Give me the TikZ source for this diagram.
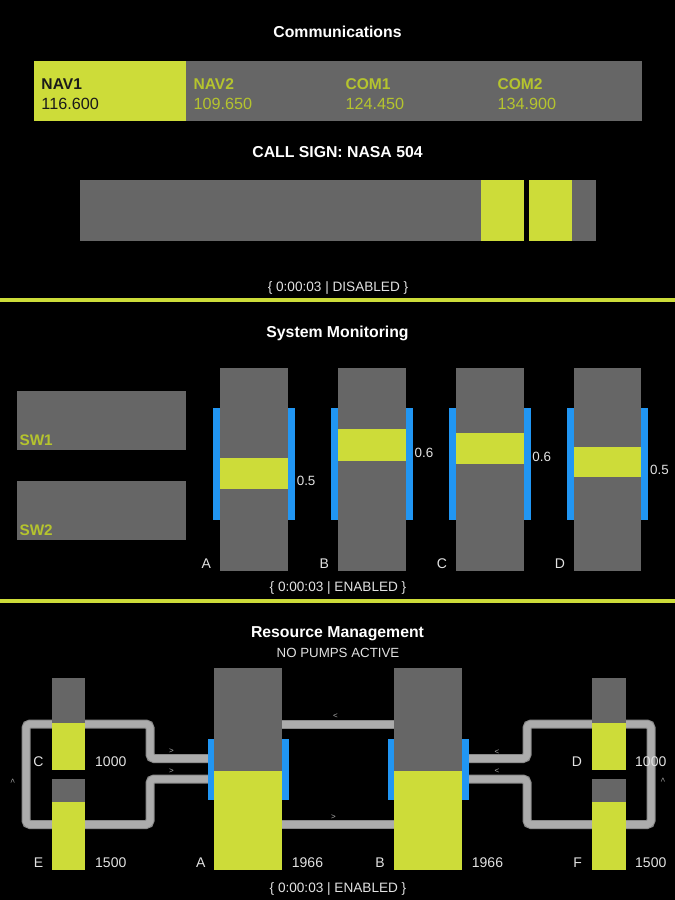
\documentclass[tikz,border=0pt]{standalone}
\usepackage{fontspec}
\setmainfont{Liberation Sans}
\definecolor{lime}{HTML}{CDDC39}
\definecolor{panel}{HTML}{666666}
\definecolor{bluebar}{HTML}{2196F3}
\definecolor{pipefill}{HTML}{ACACAC}
\definecolor{pipeedge}{HTML}{8A8A8A}
\definecolor{limetext}{HTML}{B5C42E}
\definecolor{darktext}{HTML}{1A1A1A}
\definecolor{softwhite}{HTML}{E2E2E2}
\tikzset{
  title/.style={font=\fontsize{15.8}{18}\selectfont\bfseries, text=white, inner sep=0pt, anchor=base},
  subtitle/.style={font=\fontsize{13.3}{16}\selectfont, text=softwhite, inner sep=0pt, anchor=base},
  status/.style={font=\fontsize{13.6}{16}\selectfont, text=softwhite, inner sep=0pt, anchor=base},
  chan/.style={font=\fontsize{15.6}{18}\selectfont\bfseries, inner sep=0pt, anchor=base west},
  freq/.style={font=\fontsize{16.2}{18}\selectfont, inner sep=0pt, anchor=base west},
  lbl/.style={font=\fontsize{14}{16}\selectfont, text=softwhite, inner sep=0pt},
  flow/.style={font=\fontsize{8}{8}\selectfont, text=pipefill, inner sep=0pt},
  pipe/.style={line width=7pt, draw=pipefill, line join=round, preaction={draw=pipeedge, line width=9pt}},
}
\begin{document}
\begin{tikzpicture}[x=1pt,y=-1pt]
\fill[black] (0,0) rectangle (675,900);
\useasboundingbox (0,0) rectangle (675,900);

% ---------------- Communications ----------------
\node[title] (tcomm) at (337.5,37.5) {Communications};
\fill[lime] (34,61) rectangle (186,121);
\fill[panel] (186,61) rectangle (642,121);
\node[chan, text=darktext] (nav1) at (41.3,89) {NAV1};
\node[freq, text=darktext] (fnav1) at (41.3,109.5) {116.600};
\node[chan, text=limetext] (nav2) at (193.3,89) {NAV2};
\node[freq, text=limetext] (fnav2) at (193.3,109.5) {109.650};
\node[chan, text=limetext] (com1) at (345.3,89) {COM1};
\node[freq, text=limetext] (fcom1) at (345.3,109.5) {124.450};
\node[chan, text=limetext] (com2) at (497.3,89) {COM2};
\node[freq, text=limetext] (fcom2) at (497.3,109.5) {134.900};

\node[title] (tcall) at (337.5,157) {CALL SIGN: NASA 504};
\fill[panel] (80,180) rectangle (596,241);
\fill[lime] (481,180) rectangle (524,241);
\fill[black] (524,180) rectangle (529,241);
\fill[lime] (529,180) rectangle (572,241);

\node[status] (st1) at (338,291) {\{ 0:00:03 | DISABLED \}};
\fill[lime] (0,298) rectangle (675,302);

% ---------------- System Monitoring ----------------
\node[title] (tsys) at (337.5,337) {System Monitoring};
\fill[panel] (17,391) rectangle (186.4,450);
\fill[panel] (17,481) rectangle (186.4,540);
\node[chan, text=limetext, font=\fontsize{15.3}{18}\selectfont\bfseries] (sw1) at (19.4,445) {SW1};
\node[chan, text=limetext, font=\fontsize{15.3}{18}\selectfont\bfseries] (sw2) at (19.4,535) {SW2};

\foreach \gx/\ya/\yb/\lab/\val/\vb [count=\i] in
  {220.4/458/489.3/A/0.5/485.7, 338.2/429.3/460.7/B/0.6/457.3,
   456/433.3/464/C/0.6/461, 573.8/446.7/477.3/D/0.5/474}
{
  \fill[panel] (\gx,368.3) rectangle (\gx+67.5,570.7);
  \fill[lime] (\gx,\ya) rectangle (\gx+67.5,\yb);
  \fill[bluebar] (\gx-7,408.3) rectangle (\gx,520);
  \fill[bluebar] (\gx+67.5,408.3) rectangle (\gx+74.5,520);
  \node[lbl, anchor=base] (gl\i) at (\gx-14,568.3) {\lab};
  \node[lbl, anchor=base west, font=\fontsize{13.4}{16}\selectfont] (gv\i) at (\gx+76.2,\vb) {\val};
}

\node[status] (st2) at (338,591.5) {\{ 0:00:03 | ENABLED \}};
\fill[lime] (0,599) rectangle (675,603);

% ---------------- Resource Management ----------------
\node[title] (tres) at (337.5,637) {Resource Management};
\node[subtitle] (tpump) at (338,657.3) {NO PUMPS ACTIVE};

% pipes (behind tanks)
\coordinate (aL1) at (214.3,758.5);
\coordinate (aL2) at (214.3,779);
\coordinate (bR1) at (462.3,758.5);
\coordinate (bR2) at (462.3,779);
\coordinate (aRt) at (281.7,724);
\coordinate (bLt) at (394.3,724);
\coordinate (aRb) at (281.7,824.5);
\coordinate (bLb) at (394.3,824.5);
\draw[pipe, rounded corners=4pt] (aL1) -- (150,758.5) -- (150,724) -- (26,724) -- (26,824.5) -- (150,824.5) -- (150,779) -- (aL2);
\draw[pipe, rounded corners=4pt] (bR1) -- (527,758.5) -- (527,724) -- (651,724) -- (651,824.5) -- (527,824.5) -- (527,779) -- (bR2);
\draw[pipe] (aRt) -- (bLt);
\draw[pipe] (aRb) -- (bLb);

% tanks A and B
\fill[panel] (214.3,668) rectangle (281.7,771);
\fill[lime] (214.3,771) rectangle (281.7,870);
\fill[bluebar] (208.3,739) rectangle (214.3,800);
\fill[bluebar] (281.7,739) rectangle (288.7,800);
\fill[panel] (394.3,668) rectangle (462.3,771);
\fill[lime] (394.3,771) rectangle (462.3,870);
\fill[bluebar] (387.7,739) rectangle (394.3,800);
\fill[bluebar] (462.3,739) rectangle (469,800);

% tanks C, E, D, F
\fill[panel] (52,678) rectangle (84.5,723);
\fill[lime] (52,723) rectangle (84.5,769.5);
\fill[panel] (52,779.3) rectangle (84.5,802);
\fill[lime] (52,802) rectangle (84.5,870);
\fill[panel] (591.5,678) rectangle (625.5,723);
\fill[lime] (591.5,723) rectangle (625.5,769.5);
\fill[panel] (591.5,779.3) rectangle (625.5,802);
\fill[lime] (591.5,802) rectangle (625.5,870);

% flow markers
\node[flow] (fa1) at (171.5,751) {>};
\node[flow] (fa2) at (171.5,771) {>};
\node[flow] (fb1) at (497,752) {<};
\node[flow] (fb2) at (497,771) {<};
\node[flow] (fmt) at (335.5,716) {<};
\node[flow] (fmb) at (333.5,817) {>};
\node[flow, rotate=90] (fl) at (13,781) {>};
\node[flow, rotate=90] (fr) at (663.3,780) {>};

% tank labels
\node[lbl, anchor=base] (lc) at (38.5,766) {C};
\node[lbl, anchor=base west] (vc) at (95,766) {1000};
\node[lbl, anchor=base] (le) at (38.5,867.7) {E};
\node[lbl, anchor=base west] (ve) at (95,867.7) {1500};
\node[lbl, anchor=base] (la) at (200.8,867.7) {A};
\node[lbl, anchor=base west] (va) at (291.7,867.7) {1966};
\node[lbl, anchor=base] (lb) at (380,867.7) {B};
\node[lbl, anchor=base west] (vb) at (471.7,867.7) {1966};
\node[lbl, anchor=base] (ld) at (577,766) {D};
\node[lbl, anchor=base west] (vd) at (635,766) {1000};
\node[lbl, anchor=base] (lf) at (577.7,867.7) {F};
\node[lbl, anchor=base west] (vf) at (635,867.7) {1500};

\node[status] (st3) at (338,892) {\{ 0:00:03 | ENABLED \}};
\end{tikzpicture}
\end{document}
